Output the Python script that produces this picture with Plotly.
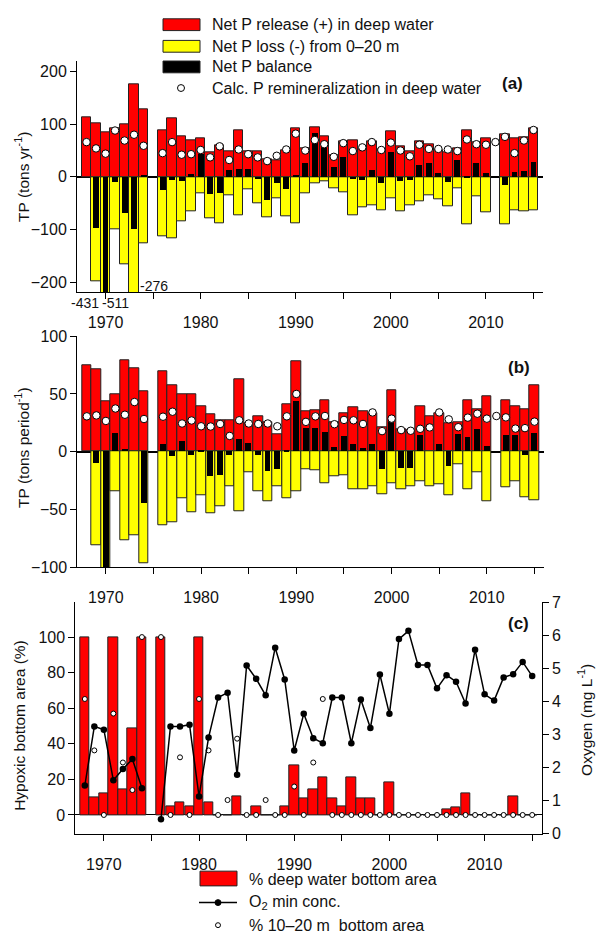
import plotly.graph_objects as go

W, H = 596, 943
FONT = "Liberation Sans, Arial, sans-serif"

years = list(range(1968, 2016))

# ---- Panel (a): tons per year
release_a = [113, 102, 84, 93, 100, 175, 128, None,
             89, 111, 77, 70, 74, 47, 60, 48, 88, 48, 48, 33, 31, 51, 92,
             55, 95, 77, 41, 67, 70, 52, 68, 52, 87,
             58, 49, 67, 62, 51, 46, 54, 89, 66, 74, None,
             80, 73, 76, 92]
loss_a = [None, -198, -511, -100, -167, -276, -126, None,
          -113, -117, -85, -65, -32, -79, -89, -36, -74, -23, -51, -76, -41, -75, -88,
          -32, -13, -9, -22, -29, -74, -58, -55, -64, -41,
          -65, -54, -47, -36, -43, -56, -22, -90, -37, -67, None,
          -91, -64, -66, -64]
balance_a = [None, -97, -431, -10, -70, -100, 2, None,
             -25, -7, -9, 5, 43, -33, -31, 12, 15, 15, -4, -44, -12, -23, 3,
             26, 82, 56, 19, 38, -4, -7, 12, -12, 46,
             -8, -6, 21, 26, 7, -11, 31, -2, 25, 7, None,
             -16, 9, 11, 28]
remin_a = [66, 54, 44, 88, 69, 80, 59, None,
           45, 66, 42, 43, 51, 37, 58, 32, 52, 43, 37, 30, 40, 52, 82,
           50, 70, 62, 38, 64, 49, 56, 66, 51, 65,
           50, 39, 61, 53, 53, 52, 49, 71, 62, 61, 66,
           76, 45, 69, 89]

# ---- Panel (b): tons per period
release_b = [74.5, 71.4, 43.3, 50, 78.8, 72, 52, None,
             69.4, 57.8, 49.6, 49.6, 39, 32.3, 26.9, 27.2, 62.6, 25, 31, 25.8, 15, 41, 78.2,
             35.4, 35.7, 44.2, 25.8, 33.7, 38.8, 35.4, 32.9, 21.5, 53.5,
             19.3, 18.7, 39.7, 30.3, 33.4, 24.4, 25.5, 44.8, 36.8, 47.6, None,
             44.2, 39, 37, 57.8]
loss_b = [None, -81, -205, -34, -76.8, -72.5, -96.6, None,
          -63.7, -61.5, -40.8, -52.4, -37.4, -53.5, -47, -30.3, -52, -17.8, -34, -42.8, -29.7, -40, -34,
          -15, -15.9, -27, -21, -20.7, -33, -32.6, -30, -36.8, -27,
          -32.6, -30.3, -25.8, -30, -28, -37.4, -10.5, -32.3, -17.8, -43, None,
          -30.9, -25.5, -39.7, -42.5]
balance_b = [None, -10, -165, 16, 2, 0, -45, None,
             6, -4, 9, -3, 1.4, -21.5, -20.7, -3.4, 10.8, 7.4, -3, -17.3, -15, 1, 44,
             20, 20, 17, 4, 13, 6, 3, 6, -15.6, 26,
             -14, -14, 14, 0, 6, -13, 15, 12.5, 19, 5, None,
             14, 14, -3, 16]
remin_b = [30.6, 31.4, 26.6, 37.4, 32, 43, 28.3, None,
           30.3, 34.6, 24.4, 27, 22, 21.8, 24, 13.6, 27.2, 24.4, 24, 24.4, 22, 30.6, 50,
           25.8, 30.6, 30.9, 23.8, 27.5, 27.2, 24, 34, 17.8, 28.6,
           18.7, 18.1, 19.8, 21, 34, 28, 21.2, 29.5, 32.9, 28.6, 30.9,
           29.7, 20, 20.4, 26]

# ---- Panel (c): hypoxia and oxygen
hyp_deep = [100, 10, 12.3, 100, 14.3, 48.7, 100, None,
            100, 5, 7, 5, 100, 7, 0, 0, 10.6, 0, 5, 0, 0, 5, 27.6,
            9.1, 14.2, 21, 9.1, 5, 21, 9.1, 9.1, 0, 18.6,
            0, 0, 0, 0, 0, 3.2, 4, 12, 0, 0, 0,
            0, 10.5, 0, 0]
hyp_shallow = [65.2, 36.3, 0, 57, 29.5, 14, 100, None,
               100, 0, 32.4, 0, 65.2, 36.3, 0, 8.4, 42.9, 0, 0, 8.4, 0, 0, 16,
               0, 29.5, 65.2, 0, 0, 0, 0, 0, 0, 0,
               0, 0, 0, 0, 0, 0, 0, 0, 0, 0, 0,
               0, 0, 0, 0]
o2_min = [1.46, 3.25, 3.15, 1.62, 1.96, 2.26, 1.38, None,
          0.44, 3.25, 3.25, 3.3, 1.13, 2.91, 4.12, 4.27, 1.79, 5.09, 4.69, 4.19, 5.63, 4.67, 2.52,
          3.63, 2.89, 2.74, 4.12, 4.12, 2.74, 4.06, 3.2, 4.82, 3.63,
          5.89, 6.14, 5.11, 5.11, 4.4, 4.8, 4.6, 3.94, 5.57, 4.22, 4.03,
          4.73, 4.83, 5.2, 4.77]

x_major = [1970, 1980, 1990, 2000, 2010]
x_minor = [1975, 1985, 1995, 2005, 2015]

RED = "#ff0000"
YEL = "#ffff00"
OUT = "#222222"


def X(px):
    return px / W


def Y(py):
    return 1 - py / H


fig = go.Figure()


def add_balance_panel(xa, ya, rel, loss, bal, rem):
    fig.add_trace(go.Bar(x=years, y=rel, width=1.0, marker=dict(color=RED, line=dict(color=OUT, width=1)),
                         xaxis=xa, yaxis=ya, showlegend=False))
    fig.add_trace(go.Bar(x=years, y=loss, width=1.0, marker=dict(color=YEL, line=dict(color=OUT, width=1)),
                         xaxis=xa, yaxis=ya, showlegend=False))
    fig.add_trace(go.Bar(x=years, y=bal, width=0.62, marker=dict(color="#000000", line=dict(width=0)),
                         xaxis=xa, yaxis=ya, showlegend=False))
    fig.add_trace(go.Scatter(x=years, y=rem, mode="markers",
                             marker=dict(color="white", size=7.5, line=dict(color="black", width=1)),
                             xaxis=xa, yaxis=ya, showlegend=False, cliponaxis=False))


add_balance_panel("x", "y", release_a, loss_a, balance_a, remin_a)
add_balance_panel("x2", "y2", release_b, loss_b, balance_b, remin_b)

fig.add_trace(go.Bar(x=years, y=hyp_deep, width=0.98, marker=dict(color=RED, line=dict(color=OUT, width=1)),
                     xaxis="x3", yaxis="y3", showlegend=False))
fig.add_trace(go.Scatter(x=years, y=hyp_shallow, mode="markers",
                         marker=dict(color="white", size=5, line=dict(color="black", width=1)),
                         xaxis="x3", yaxis="y3", showlegend=False, cliponaxis=False))
fig.add_trace(go.Scatter(x=years, y=o2_min, mode="lines+markers", connectgaps=False,
                         line=dict(color="black", width=1.5),
                         marker=dict(color="black", size=6.5),
                         xaxis="x3", yaxis="y4", showlegend=False, cliponaxis=False))

tickfont = dict(family=FONT, size=16, color="#111")
common_x = dict(range=[1967, 2016], tickvals=x_major, ticks="outside",
                ticklen=6, tickwidth=1, tickcolor="black", showline=True, linecolor="black", linewidth=1,
                showgrid=False, zeroline=False, tickfont=tickfont, ticklabelstandoff=10,
                minor=dict(tickvals=x_minor, ticks="outside", ticklen=6, tickwidth=1, tickcolor="black",
                           showgrid=False))
common_y = dict(ticks="outside", ticklen=6, tickwidth=1, tickcolor="black", showline=True,
                linecolor="black", linewidth=1, showgrid=False, tickfont=tickfont)

fig.update_layout(
    width=W, height=H, margin=dict(l=0, r=0, t=0, b=0, pad=0),
    paper_bgcolor="white", plot_bgcolor="white",
    barmode="overlay", bargap=0,
    font=dict(family=FONT, size=15, color="#111"),
    xaxis=dict(domain=[X(77), X(543)], anchor="y", **common_x),
    xaxis2=dict(domain=[X(77.3), X(544)], anchor="y2", **common_x),
    xaxis3=dict(domain=[X(75.3), X(541.7)], anchor="y3", **common_x),
    yaxis=dict(domain=[Y(289.3), Y(54.3)], anchor="x", range=[-219, 219.5],
               tickvals=[-200, -100, 0, 100, 200], zeroline=True, zerolinecolor="black",
               zerolinewidth=1.5, **common_y),
    yaxis2=dict(domain=[Y(569.3), Y(334.3)], anchor="x2", range=[-100, 100],
                tickvals=[-100, -50, 0, 50, 100], zeroline=True, zerolinecolor="black",
                zerolinewidth=1.5, **common_y),
    yaxis3=dict(domain=[Y(841), Y(605.3)], anchor="x3", range=[-10.6, 119.5],
                tickvals=[0, 20, 40, 60, 80, 100], zeroline=True, zerolinecolor="black",
                zerolinewidth=1.2, **common_y),
    yaxis4=dict(overlaying="y3", side="right", anchor="x3", range=[0, 7],
                tickvals=[0, 1, 2, 3, 4, 5, 6, 7], zeroline=False, **common_y),
)

ann = []


def text(px, py, s, size=16, xanchor="left", bold=False, angle=0):
    ann.append(dict(x=X(px), y=Y(py), xref="paper", yref="paper", text=("<b>%s</b>" % s) if bold else s,
                    showarrow=False, xanchor=xanchor, yanchor="middle", textangle=angle,
                    font=dict(family=FONT, size=size, color="#111")))


# axis titles
text(22, 172, "TP (tons yr<sup>-1</sup>)", size=15.5, angle=-90, xanchor="center")
text(22, 448, "TP (tons period<sup>-1</sup>)", size=15.5, angle=-90, xanchor="center")
text(20, 731, "Hypoxic bottom area (%)", size=15.5, angle=-90, xanchor="center")
text(585, 725, "Oxygen (mg L<sup>-1</sup>)", size=15.5, angle=-90, xanchor="center")

# panel labels
text(512, 77, "(a)", size=17, xanchor="center", bold=True)
text(519, 366, "(b)", size=17, xanchor="center", bold=True)
text(518, 627, "(c)", size=17, xanchor="center", bold=True)

# off-scale value labels
text(85, 300, "-431", size=14, xanchor="center")
text(115, 300, "-511", size=14, xanchor="center")
text(154, 283, "-276", size=14, xanchor="center")

# top legend
shapes = []
leg_rows = [(17, RED, "Net P release (+) in deep water"),
            (39, YEL, "Net P loss (-) from 0\u201320 m"),
            (60, "#000000", "Net P balance")]
for cy, col, label in leg_rows:
    shapes.append(dict(type="rect", xref="paper", yref="paper", x0=X(163), x1=X(200), y0=Y(cy + 6), y1=Y(cy - 6),
                       fillcolor=col, line=dict(color=OUT, width=1)))
    text(210, cy, label)
shapes.append(dict(type="circle", xref="paper", yref="paper", x0=X(177.5), x1=X(184.5), y0=Y(85), y1=Y(78),
                   fillcolor="white", line=dict(color="black", width=1)))
text(210, 82, "Calc. P remineralization in deep water")

# bottom legend
shapes.append(dict(type="rect", xref="paper", yref="paper", x0=X(200), x1=X(237), y0=Y(894), y1=Y(879),
                   fillcolor=RED, line=dict(color=OUT, width=1)))
text(247, 887, "% deep water bottom area")
shapes.append(dict(type="line", xref="paper", yref="paper", x0=X(199), x1=X(237), y0=Y(911), y1=Y(911),
                   line=dict(color="black", width=1.5)))
shapes.append(dict(type="circle", xref="paper", yref="paper", x0=X(215), x1=X(221), y0=Y(914), y1=Y(908),
                   fillcolor="black", line=dict(color="black", width=1)))
text(247, 911, "O<sub>2</sub> min conc.")
shapes.append(dict(type="circle", xref="paper", yref="paper", x0=X(215.5), x1=X(220.5), y0=Y(936.5), y1=Y(931.5),
                   fillcolor="white", line=dict(color="black", width=1)))
text(247, 934, "% 10\u201320 m  bottom area")

fig.update_layout(annotations=ann, shapes=shapes)

fig.write_html("out.html", config={"displayModeBar": False},
               post_script="document.body.style.margin='0';document.body.style.overflow='hidden';")
